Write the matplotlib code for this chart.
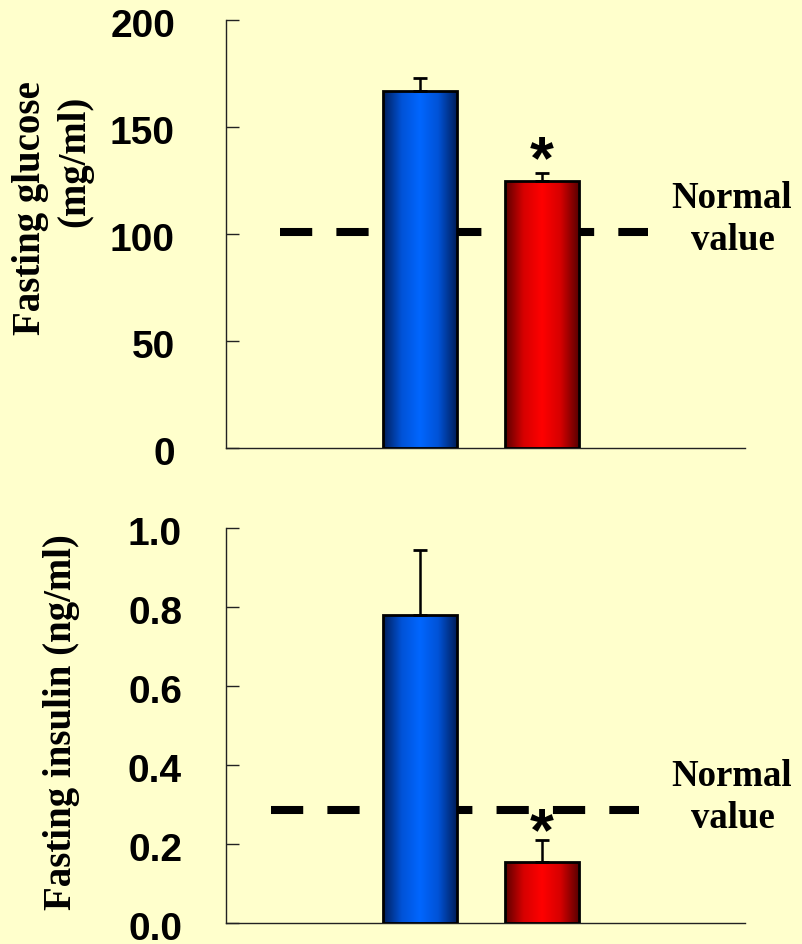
import numpy as np
import matplotlib
matplotlib.use("Agg")
import matplotlib.pyplot as plt
from matplotlib.colors import LinearSegmentedColormap
from matplotlib.transforms import offset_copy

# ---- data ----
groups = ["Group A", "Group B"]
glucose_mean = [167, 125]
glucose_err = [6, 3.5]
glucose_normal = 101
glucose_ticks = [0, 50, 100, 150, 200]
glucose_ticklabels = ["0", "50", "100", "150", "200"]

insulin_mean = [0.78, 0.155]
insulin_err = [0.165, 0.056]
insulin_normal = 0.285
insulin_ticks = [0.0, 0.2, 0.4, 0.6, 0.8, 1.0]
insulin_ticklabels = ["0.0", "0.2", "0.4", "0.6", "0.8", "1.0"]

star_group = 1
star_y = [126, 0.185]

BG = "#FFFFCC"
W, H = 802, 944
fig = plt.figure(figsize=(W / 100, H / 100), dpi=100, facecolor=BG)

def px_rect(l, t, r, b):
    return [l / W, 1 - b / H, (r - l) / W, (b - t) / H]

ax1 = fig.add_axes(px_rect(226, 20, 745, 448))
ax2 = fig.add_axes(px_rect(226, 528, 745, 923))

grad_maps = [
    LinearSegmentedColormap.from_list("b", ["#001e5a", "#0052d6", "#0066ff", "#0052d6", "#001e5a"]),
    LinearSegmentedColormap.from_list("r", ["#5a0000", "#d60000", "#ff0000", "#d60000", "#5a0000"]),
]

sans = "Liberation Sans"
serif = "Liberation Serif"

def panel(ax, means, errs, normal, ylim, ticks, ticklabels, dash_x, label_pad_px, star_val):
    ax.set_facecolor(BG)
    x = np.arange(len(means))
    ax.plot(dash_x, [normal, normal], color="black", lw=5.8, linestyle=(0, (4, 3)),
            solid_capstyle="butt", dash_capstyle="butt", zorder=2)
    bars = ax.bar(x, means, width=0.6, facecolor="none", edgecolor="black", linewidth=2, zorder=3)
    for bar, cm in zip(bars, grad_maps):
        x0, y0 = bar.get_x(), bar.get_y()
        w, h = bar.get_width(), bar.get_height()
        g = np.linspace(0, 1, 256).reshape(1, -1)
        im = ax.imshow(g, extent=[x0, x0 + w, y0, y0 + h], cmap=cm, aspect="auto",
                       origin="lower", zorder=2.5, interpolation="bilinear")
        im.set_clip_path(bar)
    ax.errorbar(x, means, yerr=[np.zeros(len(errs)), errs], fmt="none", ecolor="black",
                elinewidth=1.8, capsize=5, capthick=2, zorder=4)
    ax.annotate("*", xy=(x[star_group], star_val), ha="center", va="baseline",
                fontsize=44, fontweight="bold", family=sans, zorder=5)
    ax.set_xlim(-1.59, 2.664)
    ax.set_ylim(*ylim)
    for s in ["top", "right"]:
        ax.spines[s].set_visible(False)
    for s in ["left", "bottom"]:
        ax.spines[s].set_linewidth(1.0)
        ax.spines[s].set_color("#222222")
    ax.set_xticks([])
    ax.set_yticks(ticks)
    ax.set_yticklabels([])
    ax.tick_params(axis="y", direction="in", length=9, width=1, color="#222222")
    tr = offset_copy(ax.get_yaxis_transform(), fig=fig, x=-label_pad_px, y=-7, units="dots")
    for t, lab in zip(ticks, ticklabels):
        ax.text(0, t, lab, transform=tr, ha="right", va="center", fontsize=28,
                fontweight="bold", family=sans, clip_on=False)

panel(ax1, glucose_mean, glucose_err, glucose_normal, (0, 200), glucose_ticks,
      glucose_ticklabels, [-1.147, 1.869], 51, star_y[0])
panel(ax2, insulin_mean, insulin_err, insulin_normal, (0, 1.0), insulin_ticks,
      insulin_ticklabels, [-1.221, 1.795], 44, star_y[1])

def ftext(xp, yp, s, **kw):
    fig.text(xp / W, 1 - yp / H, s, **kw)

lab = dict(family=serif, fontweight="bold", fontsize=28, ha="center", va="center")
ftext(31, 208, "Fasting glucose", rotation=90, **lab)
ftext(75, 161, "(mg/ml)", rotation=90, **lab)
ftext(62, 722, "Fasting insulin (ng/ml)", rotation=90, **lab)

nv = dict(family=serif, fontweight="bold", fontsize=26.5, ha="center", va="center")
ftext(732, 198, "Normal", **nv)
ftext(733, 241, "value", **nv)
ftext(732, 776, "Normal", **nv)
ftext(733, 819, "value", **nv)

fig.savefig("out.png", dpi=100, facecolor=BG)
